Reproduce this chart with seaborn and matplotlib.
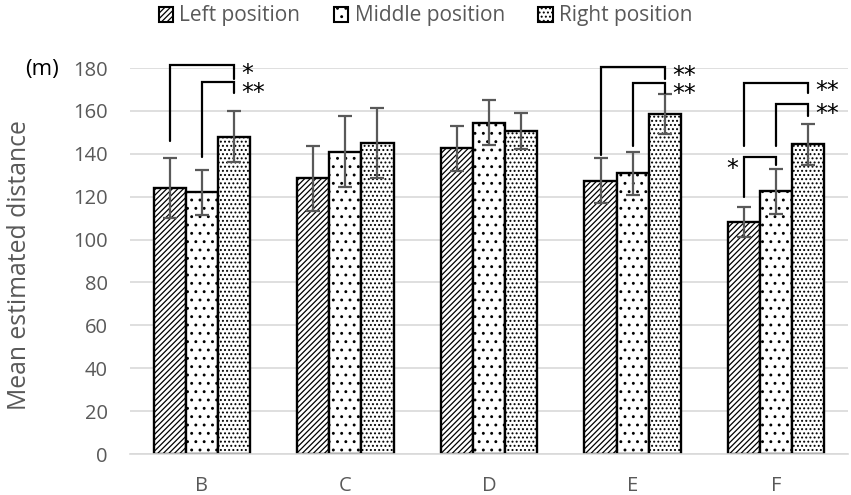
import matplotlib
matplotlib.use("Agg")
import matplotlib.pyplot as plt
import seaborn as sns
import pandas as pd
import numpy as np

# ---- data ----
categories = ["B", "C", "D", "E", "F"]
positions = ["Left position", "Middle position", "Right position"]
left_mean = [124, 128.5, 142.5, 127.5, 108]
middle_mean = [122, 141, 154.5, 131, 122.5]
right_mean = [148, 145, 150.5, 158.5, 144.5]
left_err = [14, 15, 10.5, 10.5, 7]
middle_err = [10.5, 16.5, 10.5, 10, 10.5]
right_err = [12, 16.5, 8.5, 9.5, 9.5]
y_ticks = [0, 20, 40, 60, 80, 100, 120, 140, 160, 180]

# significance brackets: group, bar from, bar to, top, left bottom, right bottom, label, label y, side
br_group = [0, 0, 3, 3, 4, 4, 4]
br_from = [0, 1, 0, 1, 0, 1, 0]
br_to = [2, 2, 2, 2, 2, 2, 1]
br_top = [181.4, 173.4, 180.3, 172.9, 172.9, 163.1, 138.4]
br_lbot = [146, 138.5, 139.5, 143.4, 143.7, 143.4, 120]
br_rbot = [175, 168.5, 174.7, 168.5, 168.5, 157.8, 134.6]
br_label = ["*", "**", "**", "**", "**", "**", "*"]
br_label_y = [178, 169.5, 177.2, 168.7, 170, 159.7, 134]
br_side = ["right", "right", "right", "right", "right", "right", "left"]

means = [left_mean, middle_mean, right_mean]
errs = [left_err, middle_err, right_err]
df = pd.DataFrame({
    "category": np.repeat([categories], 3, axis=0).ravel(),
    "position": np.repeat(positions, len(categories)),
    "value": np.concatenate(means),
})

sns.set_theme(style="white")
plt.rcParams["font.family"] = ["Open Sans", "DejaVu Sans"]
plt.rcParams["hatch.linewidth"] = 0.9

text_col = "#595959"
fig = plt.figure(figsize=(8.51, 4.95), dpi=100)
ax = fig.add_axes([130 / 851, 1 - 454 / 495, (848 - 130) / 851, (454 - 68) / 495])

sns.barplot(data=df, x="category", y="value", hue="position", order=categories,
            hue_order=positions, palette=["white"] * 3, width=0.67, gap=0,
            errorbar=None, edgecolor="black", linewidth=1.7, ax=ax, legend=True)

hatches = ["//////", "..", "...."]
centers = []
bar_conts = list(ax.containers)
for i, cont in enumerate(bar_conts):
    xs = []
    for p in cont.patches:
        p.set_hatch(hatches[i])
        p.set_facecolor("white")
        p.set_edgecolor("black")
        xs.append(p.get_x() + p.get_width() / 2)
    centers.append(xs)
for i in range(3):
    ax.errorbar(centers[i], means[i], yerr=errs[i], fmt="none", ecolor=text_col,
                elinewidth=1.6, capsize=4.8, capthick=1.6, zorder=5)

# brackets
star_px = 2.144  # pixels per data unit, used only to set baseline below star centre
for g, a, b, top, lb, rb, lab, ly, side in zip(br_group, br_from, br_to, br_top,
                                                 br_lbot, br_rbot, br_label,
                                                 br_label_y, br_side):
    x1 = centers[a][g]
    x2 = centers[b][g]
    ax.plot([x1, x1, x2, x2], [lb, top, top, rb], color="black", lw=1.6,
            clip_on=False, zorder=6, solid_joinstyle="miter")
    ybase = ly - 9 / star_px
    if side == "right":
        ax.text(x2 + 0.05, ybase, lab, ha="left", va="baseline", fontsize=17,
                color="black", clip_on=False, family="DejaVu Sans")
    else:
        ax.text(x1 - 0.04, ybase, lab, ha="right", va="baseline", fontsize=17,
                color="black", clip_on=False, family="DejaVu Sans")

ax.set_xlim(-0.5, 4.5)
ax.set_ylim(0, 180)
ax.set_yticks(y_ticks)
ax.yaxis.grid(True, color="#d9d9d9", lw=1.2)
ax.set_axisbelow(True)
for s in ["left", "right", "top"]:
    ax.spines[s].set_visible(False)
ax.spines["bottom"].set_color("#d9d9d9")
ax.spines["bottom"].set_linewidth(1.2)
ax.tick_params(axis="y", length=0, pad=16, labelsize=14.5, labelcolor=text_col)
ax.tick_params(axis="x", length=0, pad=16, labelsize=14.5, labelcolor=text_col)
ax.set_xlabel("")
ax.set_ylabel("Mean estimated distance", fontsize=17.8, color=text_col)
ax.yaxis.set_label_coords(-0.137, 0.49)

fig.text(25 / 851, 1 - 70 / 495, "(m)", fontsize=16, color="black", ha="left", va="center")

leg = ax.get_legend()
handles = leg.legend_handles
leg.remove()
for h, ht in zip(handles, hatches):
    h.set_hatch(ht)
    h.set_facecolor("white")
    h.set_edgecolor("black")
    h.set_linewidth(1.5)
fig.legend(handles, positions, loc="center", bbox_to_anchor=(0.5, 1 - 16 / 495),
           ncol=3, frameon=False, fontsize=15, handlelength=0.7, handleheight=0.7,
           handletextpad=0.3, columnspacing=1.6, labelcolor=text_col)

fig.savefig("out.png", dpi=100)
